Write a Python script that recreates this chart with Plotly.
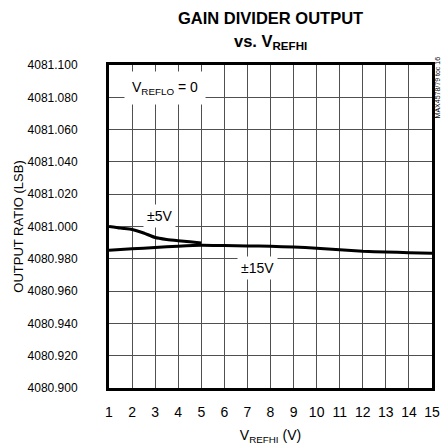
import plotly.graph_objects as go

# Data
vrefhi_5v = [1, 1.5, 2, 2.5, 3, 3.5, 4, 4.5, 5]
ratio_5v = [4081.0000, 4080.9990, 4080.9982, 4080.9960, 4080.9932, 4080.9920, 4080.9912, 4080.9905, 4080.9898]
vrefhi_15v = [1, 2, 3, 4, 5, 6, 7, 8, 9, 10, 11, 12, 13, 14, 15]
ratio_15v = [4080.9853, 4080.9862, 4080.9870, 4080.9878, 4080.9884, 4080.9882, 4080.9880, 4080.9877, 4080.9873, 4080.9866, 4080.9856, 4080.9847, 4080.9842, 4080.9838, 4080.9834]
x_ticks = list(range(1, 16))
y_ticks = [4080.900 + 0.02 * i for i in range(11)]
y_ticklabels = [f"{v:.3f}" for v in y_ticks]

FONT = "Liberation Sans, Arial, sans-serif"

fig = go.Figure()
fig.add_trace(go.Scatter(x=vrefhi_5v, y=ratio_5v, mode="lines",
                         line=dict(color="black", width=3, shape="spline", smoothing=0.6),
                         showlegend=False, hoverinfo="skip"))
fig.add_trace(go.Scatter(x=vrefhi_15v, y=ratio_15v, mode="lines",
                         line=dict(color="black", width=3, shape="spline", smoothing=0.6),
                         showlegend=False, hoverinfo="skip"))

fig.update_layout(
    width=443, height=448,
    margin=dict(l=109, r=11, t=65, b=60, autoexpand=False),
    paper_bgcolor="white", plot_bgcolor="white",
    font=dict(family=FONT, color="black", size=13),
    xaxis=dict(range=[1, 15], tickmode="array", tickvals=x_ticks,
               ticktext=[str(v) for v in x_ticks],
               showgrid=True, gridcolor="#505050", gridwidth=1.4,
               showline=True, linecolor="black", linewidth=3, mirror=True,
               ticks="", ticklabelstandoff=9, zeroline=False, automargin=False,
               tickfont=dict(size=14),
               title=dict(text="V<sub>REFHI</sub> (V)", font=dict(size=14), standoff=12)),
    yaxis=dict(range=[4080.9, 4081.1], tickmode="array", tickvals=y_ticks,
               ticktext=y_ticklabels,
               showgrid=True, gridcolor="#505050", gridwidth=1.4,
               showline=True, linecolor="black", linewidth=3, mirror=True,
               ticks="", ticklabelstandoff=26, zeroline=False, automargin=False,
               tickfont=dict(size=12),
               title=dict(text="OUTPUT RATIO (LSB)", font=dict(size=13), standoff=1)),
    annotations=[
        dict(x=0.5, y=1 + (65 - 18) / 323, xref="paper", yref="paper",
             text="<b>GAIN DIVIDER OUTPUT</b>", showarrow=False,
             xanchor="center", yanchor="middle", font=dict(size=16.5)),
        dict(x=0.5, y=1 + (65 - 42) / 323, xref="paper", yref="paper",
             text="<b>vs. V<sub>REFHI</sub></b>", showarrow=False,
             xanchor="center", yanchor="middle", font=dict(size=16.5)),
        dict(x=3.42, y=4081.086, xref="x", yref="y", text="V<sub>REFLO</sub> = 0",
             showarrow=False, bgcolor="white", borderpad=7, font=dict(size=14)),
        dict(x=3.2, y=4081.0065, xref="x", yref="y", text="±5V",
             showarrow=False, bgcolor="white", borderpad=3, font=dict(size=14)),
        dict(x=7.44, y=4080.9743, xref="x", yref="y", text="±15V",
             showarrow=False, bgcolor="white", borderpad=3, font=dict(size=14)),
        dict(x=1.018, y=0.93, xref="paper", yref="paper", text="MAX4578/79 toc 16",
             showarrow=False, textangle=-90, xanchor="center", yanchor="middle",
             font=dict(size=7, color="black")),
    ],
)

fig.write_html("out.html", config={"displayModeBar": False},
               post_script="document.body.style.margin='0';document.body.style.padding='0';")
